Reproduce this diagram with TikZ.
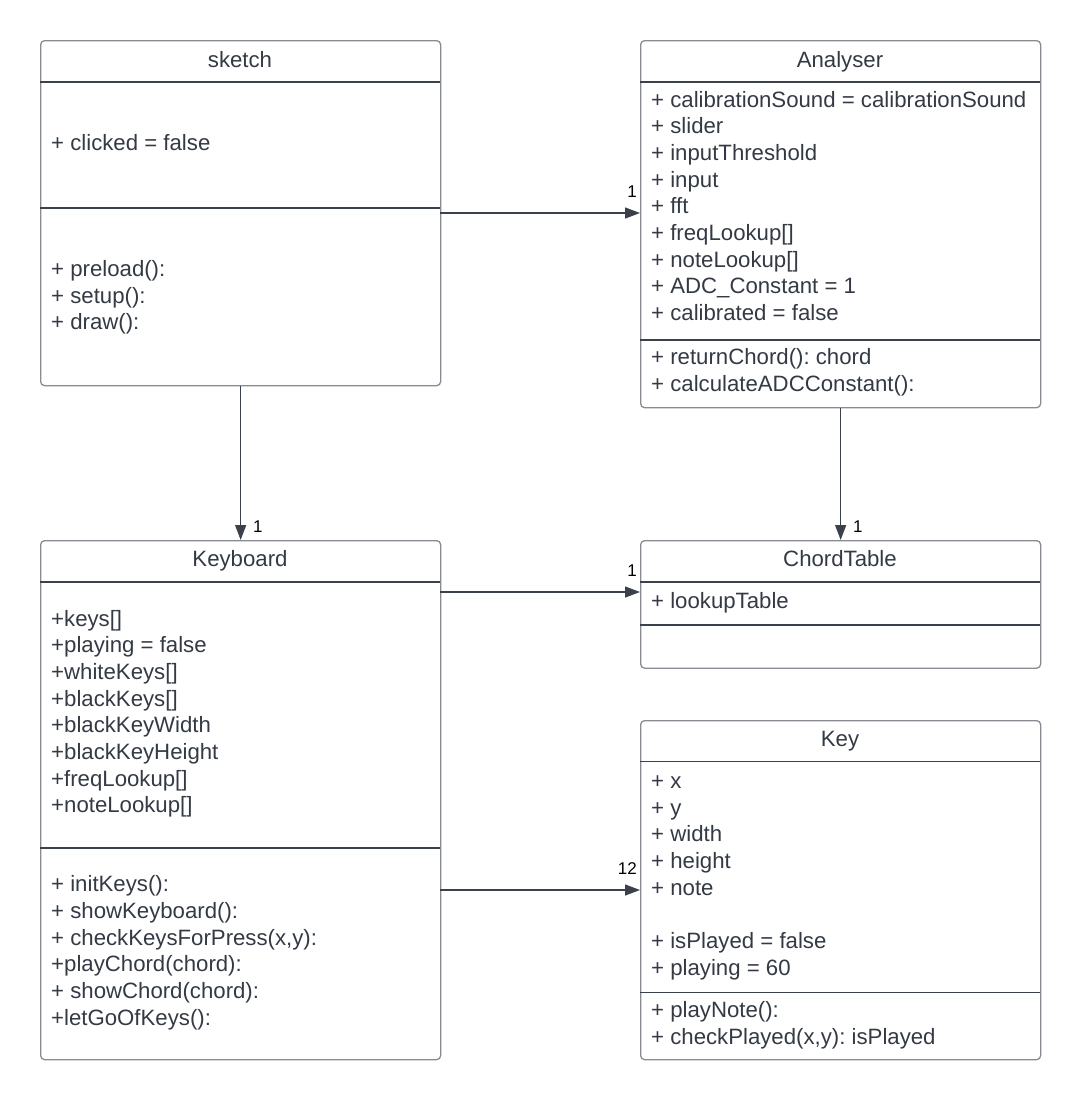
\documentclass[tikz,border=0pt]{standalone}
\usepackage{fontspec}
\setmainfont{Liberation Sans}
\usetikzlibrary{arrows.meta}
\definecolor{boxgray}{HTML}{888C92}
\definecolor{linedark}{HTML}{3A414A}
\definecolor{txt}{HTML}{333A44}
\frenchspacing
\begin{document}
\begin{tikzpicture}[x=1pt,y=-1pt,
  classbox/.style={draw=boxgray, line width=1.3pt, rounded corners=4pt, anchor=north west, inner sep=0pt, minimum width=400pt},
  sepline/.style={draw=linedark, line width=1.1pt},
  lbl/.style={anchor=base west, inner sep=0pt, font=\fontsize{22.2}{26}\selectfont, text=txt},
  ttl/.style={anchor=base, inner sep=0pt, font=\fontsize{22.2}{26}\selectfont, text=txt},
  mult/.style={inner sep=0pt, font=\fontsize{17}{20}\selectfont, text=black},
  assoc/.style={draw=linedark, line width=1.3pt, -{Triangle[length=15pt,width=11pt]}}]
\useasboundingbox (0,0) rectangle (1080,1101);

% ---------- sketch ----------
\node[classbox, minimum height=345pt] (sketch) at (40,40) {};
\draw[sepline] (40,82) -- (440,82);
\draw[sepline] (40,208) -- (440,208);
\node[ttl] (sketchT) at (240,67) {sketch};
\node[lbl] (s1) at (51,150) {+ clicked = false};
\node[lbl] (s2) at (51,276) {+ preload():};
\node[lbl] (s3) at (51,303) {+ setup():};
\node[lbl] (s4) at (51,329) {+ draw():};

% ---------- Analyser ----------
\node[classbox, minimum height=367pt] (Analyser) at (640,40) {};
\draw[sepline] (640,82) -- (1040,82);
\draw[sepline] (640,340) -- (1040,340);
\node[ttl] (anT) at (840,67) {Analyser};
\node[lbl] (a1) at (651,107) {+ calibrationSound = calibrationSound};
\node[lbl] (a2) at (651,133.67) {+ slider};
\node[lbl] (a3) at (651,160.33) {+ inputThreshold};
\node[lbl] (a4) at (651,187) {+ input};
\node[lbl] (a5) at (651,213.67) {+ fft};
\node[lbl] (a6) at (651,240.33) {+ freqLookup[]};
\node[lbl] (a7) at (651,267) {+ noteLookup[]};
\node[lbl] (a8) at (651,293.67) {+ ADC\_Constant = 1};
\node[lbl] (a9) at (651,320.33) {+ calibrated = false};
\node[lbl] (a10) at (651,364) {+ returnChord(): chord};
\node[lbl] (a11) at (651,391) {+ calculateADCConstant():};

% ---------- Keyboard ----------
\node[classbox, minimum height=519pt] (Keyboard) at (40,540) {};
\draw[sepline] (40,582) -- (440,582);
\draw[sepline] (40,848) -- (440,848);
\node[ttl] (kbT) at (240,566) {Keyboard};
\node[lbl] (k1) at (51,626) {+keys[]};
\node[lbl] (k2) at (51,652.67) {+playing = false};
\node[lbl] (k3) at (51,679.33) {+whiteKeys[]};
\node[lbl] (k4) at (51,706) {+blackKeys[]};
\node[lbl] (k5) at (51,732.67) {+blackKeyWidth};
\node[lbl] (k6) at (51,759.33) {+blackKeyHeight};
\node[lbl] (k7) at (51,786) {+freqLookup[]};
\node[lbl] (k8) at (51,812.67) {+noteLookup[]};
\node[lbl] (k9) at (51,891.7) {+ initKeys():};
\node[lbl] (k10) at (51,918.3) {+ showKeyboard():};
\node[lbl] (k11) at (51,945) {+ checkKeysForPress(x,y):};
\node[lbl] (k12) at (51,971.7) {+playChord(chord):};
\node[lbl] (k13) at (51,998.3) {+ showChord(chord):};
\node[lbl] (k14) at (51,1025) {+letGoOfKeys():};

% ---------- ChordTable ----------
\node[classbox, minimum height=127.5pt] (ChordTable) at (640,540) {};
\draw[sepline] (640,582) -- (1040,582);
\draw[sepline] (640,625) -- (1040,625);
\node[ttl] (ctT) at (840,566) {ChordTable};
\node[lbl] (c1) at (651,608) {+ lookupTable};

% ---------- Key ----------
\node[classbox, minimum height=339pt] (Key) at (640,720) {};
\draw[sepline] (640,761.7) -- (1040,761.7);
\draw[sepline] (640,992.7) -- (1040,992.7);
\node[ttl] (keyT) at (840,746) {Key};
\node[lbl] (y1) at (651,788.3) {+ x};
\node[lbl] (y2) at (651,815) {+ y};
\node[lbl] (y3) at (651,841.7) {+ width};
\node[lbl] (y4) at (651,868.3) {+ height};
\node[lbl] (y5) at (651,895) {+ note};
\node[lbl] (y6) at (651,948.3) {+ isPlayed = false};
\node[lbl] (y7) at (651,975) {+ playing = 60};
\node[lbl] (y8) at (651,1017.3) {+ playNote():};
\node[lbl] (y9) at (651,1044) {+ checkPlayed(x,y): isPlayed};

% ---------- connectors ----------
\coordinate (skA) at (440,213);
\draw[assoc] (skA) -- (skA -| Analyser.west);
\node[mult, anchor=base east] (m1) at (637,197) {1};

\draw[assoc] (sketch.south) -- (Keyboard.north);
\node[mult, anchor=base west] (m2) at (253,532) {1};

\draw[assoc] (Analyser.south) -- (ChordTable.north);
\node[mult, anchor=base west] (m3) at (853,532) {1};

\coordinate (kbC) at (440,592);
\draw[assoc] (kbC) -- (kbC -| ChordTable.west);
\node[mult, anchor=base east] (m4) at (637,576) {1};

\coordinate (kbK) at (440,890);
\draw[assoc] (kbK) -- (kbK -| Key.west);
\node[mult, anchor=base east] (m5) at (637,874) {12};
\end{tikzpicture}
\end{document}
